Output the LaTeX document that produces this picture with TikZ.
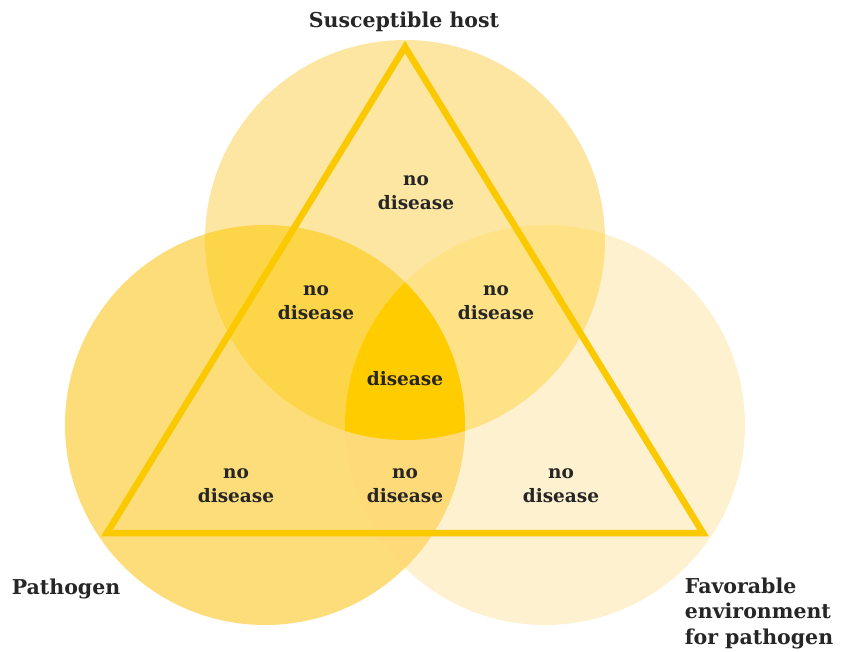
\documentclass[tikz,border=0pt]{standalone}
\usepackage{fontspec}
\setmainfont{DejaVu Serif}
\usepackage{xcolor}
\usepackage{tikz}

\definecolor{hostcol}{HTML}{FDE6A2}
\definecolor{pathcol}{HTML}{FDDD7A}
\definecolor{envcol}{HTML}{FEF1CF}
\definecolor{hpcol}{HTML}{FDD548}
\definecolor{hecol}{HTML}{FEE285}
\definecolor{pecol}{HTML}{FEDB78}
\definecolor{discol}{HTML}{FFCC00}
\definecolor{tricol}{HTML}{FBC900}

\tikzset{
  lbl/.style={font=\bfseries\fontsize{18.5}{24}\selectfont, text=black!85, align=center},
  title/.style={font=\bfseries\fontsize{20.5}{25.5}\selectfont, text=black!85}
}

\begin{document}
\begin{tikzpicture}[x=1pt, y=-1pt]
	\useasboundingbox (0,0) rectangle (849,652);
	\coordinate (host) at (405,240);
	\coordinate (path) at (265,425);
	\coordinate (env) at (545,425);

	\fill [envcol] (env) circle [radius=200pt];
	\fill [pathcol] (path) circle [radius=200pt];
	\fill [hostcol] (host) circle [radius=200pt];
	\begin{scope}
		\clip (path) circle [radius=200pt];
		\fill [pecol] (env) circle [radius=200pt];
		\fill [hpcol] (host) circle [radius=200pt];
	\end{scope}
	\begin{scope}
		\clip (env) circle [radius=200pt];
		\fill [hecol] (host) circle [radius=200pt];
		\clip (path) circle [radius=200pt];
		\fill [discol] (host) circle [radius=200pt];
	\end{scope}

	\coordinate (apex) at (405,47);
	\coordinate (bl) at (107,533);
	\coordinate (br) at (703,533);
	\draw [tricol, line width=6.5pt, line join=miter] (apex) -- (bl) -- (br) -- cycle;

	\node [title] (hostlbl) at (404,22) {Susceptible host};
	\node [title] (pathlbl) at (66,589) {Pathogen};
	\node [title, align=left] (envlbl) at (759,613) {Favorable\\environment\\for pathogen};

	\node [lbl] (r1) at (416,193) {no\\disease};
	\node [lbl] (r2) at (316,303) {no\\disease};
	\node [lbl] (r3) at (496,303) {no\\disease};
	\node [lbl] (r4) at (405,379) {disease};
	\node [lbl] (r5) at (236,486) {no\\disease};
	\node [lbl] (r6) at (405,486) {no\\disease};
	\node [lbl] (r7) at (561,486) {no\\disease};
\end{tikzpicture}
\end{document}
